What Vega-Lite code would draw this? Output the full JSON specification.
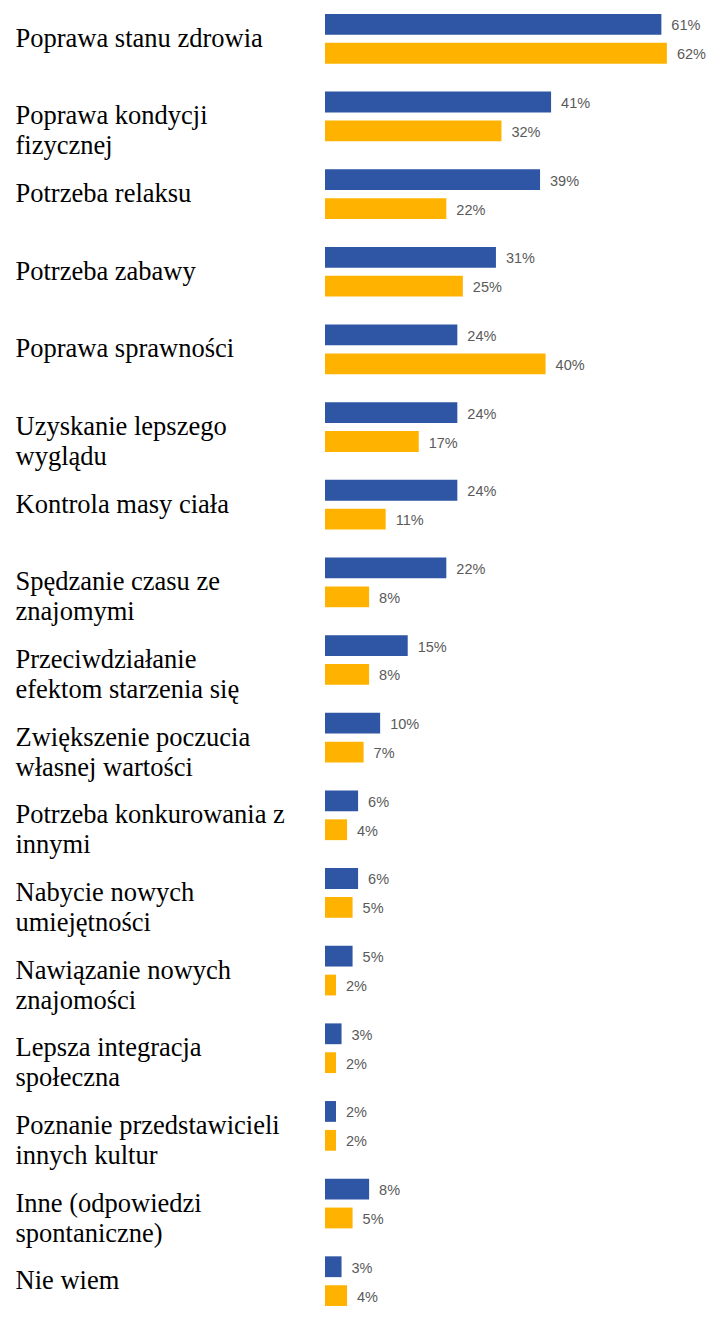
{
  "$schema": "https://vega.github.io/schema/vega-lite/v6.json",
  "padding": {"left": 15, "top": 0, "right": 0, "bottom": 0},
  "width": 386,
  "height": 1320,
  "background": "white",
  "config": {"view": {"stroke": null}},
  "data": {
    "values": [
      {"cat": "Poprawa stanu zdrowia", "series": "Seria 1", "value": 0.61},
      {"cat": "Poprawa stanu zdrowia", "series": "Seria 2", "value": 0.62},
      {"cat": "Poprawa kondycji\nfizycznej", "series": "Seria 1", "value": 0.41},
      {"cat": "Poprawa kondycji\nfizycznej", "series": "Seria 2", "value": 0.32},
      {"cat": "Potrzeba relaksu", "series": "Seria 1", "value": 0.39},
      {"cat": "Potrzeba relaksu", "series": "Seria 2", "value": 0.22},
      {"cat": "Potrzeba zabawy", "series": "Seria 1", "value": 0.31},
      {"cat": "Potrzeba zabawy", "series": "Seria 2", "value": 0.25},
      {"cat": "Poprawa sprawności", "series": "Seria 1", "value": 0.24},
      {"cat": "Poprawa sprawności", "series": "Seria 2", "value": 0.40},
      {"cat": "Uzyskanie lepszego\nwyglądu", "series": "Seria 1", "value": 0.24},
      {"cat": "Uzyskanie lepszego\nwyglądu", "series": "Seria 2", "value": 0.17},
      {"cat": "Kontrola masy ciała", "series": "Seria 1", "value": 0.24},
      {"cat": "Kontrola masy ciała", "series": "Seria 2", "value": 0.11},
      {"cat": "Spędzanie czasu ze\nznajomymi", "series": "Seria 1", "value": 0.22},
      {"cat": "Spędzanie czasu ze\nznajomymi", "series": "Seria 2", "value": 0.08},
      {"cat": "Przeciwdziałanie\nefektom starzenia się", "series": "Seria 1", "value": 0.15},
      {"cat": "Przeciwdziałanie\nefektom starzenia się", "series": "Seria 2", "value": 0.08},
      {"cat": "Zwiększenie poczucia\nwłasnej wartości", "series": "Seria 1", "value": 0.10},
      {"cat": "Zwiększenie poczucia\nwłasnej wartości", "series": "Seria 2", "value": 0.07},
      {"cat": "Potrzeba konkurowania z\ninnymi", "series": "Seria 1", "value": 0.06},
      {"cat": "Potrzeba konkurowania z\ninnymi", "series": "Seria 2", "value": 0.04},
      {"cat": "Nabycie nowych\numiejętności", "series": "Seria 1", "value": 0.06},
      {"cat": "Nabycie nowych\numiejętności", "series": "Seria 2", "value": 0.05},
      {"cat": "Nawiązanie nowych\nznajomości", "series": "Seria 1", "value": 0.05},
      {"cat": "Nawiązanie nowych\nznajomości", "series": "Seria 2", "value": 0.02},
      {"cat": "Lepsza integracja\nspołeczna", "series": "Seria 1", "value": 0.03},
      {"cat": "Lepsza integracja\nspołeczna", "series": "Seria 2", "value": 0.02},
      {"cat": "Poznanie przedstawicieli\ninnych kultur", "series": "Seria 1", "value": 0.02},
      {"cat": "Poznanie przedstawicieli\ninnych kultur", "series": "Seria 2", "value": 0.02},
      {"cat": "Inne (odpowiedzi\nspontaniczne)", "series": "Seria 1", "value": 0.08},
      {"cat": "Inne (odpowiedzi\nspontaniczne)", "series": "Seria 2", "value": 0.05},
      {"cat": "Nie wiem", "series": "Seria 1", "value": 0.03},
      {"cat": "Nie wiem", "series": "Seria 2", "value": 0.04}
    ]
  },
  "encoding": {
    "y": {
      "field": "cat",
      "type": "nominal",
      "sort": null,
      "scale": {"paddingInner": 0.36, "paddingOuter": 0.18},
      "axis": {
        "title": null,
        "ticks": false,
        "domain": false,
        "labelAlign": "left",
        "labelBaseline": "middle",
        "labelPadding": 310,
        "labelLimit": 330,
        "labelFont": "Liberation Serif",
        "labelFontSize": 26.5,
        "labelLineHeight": 30,
        "labelColor": "#000000",
        "labelExpr": "split(datum.label, '\\n')"
      }
    },
    "yOffset": {
      "field": "series",
      "type": "nominal",
      "sort": ["Seria 1", "Seria 2"],
      "scale": {"paddingInner": 0.28, "paddingOuter": 0}
    },
    "x": {
      "field": "value",
      "type": "quantitative",
      "scale": {"domain": [0, 0.7], "nice": false},
      "axis": null
    }
  },
  "layer": [
    {
      "mark": {"type": "bar"},
      "encoding": {
        "color": {
          "field": "series",
          "type": "nominal",
          "scale": {"domain": ["Seria 1", "Seria 2"], "range": ["#2F55A5", "#FFB300"]},
          "legend": null
        }
      }
    },
    {
      "mark": {"type": "text", "align": "left", "baseline": "middle", "dx": 10, "dy": 2, "font": "Liberation Sans", "fontSize": 14.5, "color": "#5a5a5a"},
      "encoding": {
        "text": {"field": "value", "type": "quantitative", "format": ".0%"}
      }
    }
  ]
}
